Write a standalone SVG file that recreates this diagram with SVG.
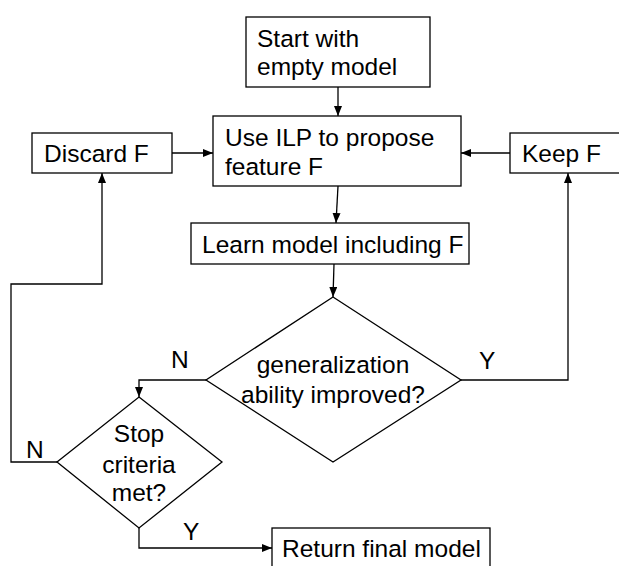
<svg xmlns="http://www.w3.org/2000/svg" width="619" height="566" viewBox="0 0 619 566">
  <style>
    .box { fill: #ffffff; stroke: #000000; stroke-width: 1.3; }
    .lbl { font-family: "Liberation Sans", Arial, sans-serif; font-size: 24.5px; fill: #000000; }
    .mid { text-anchor: middle; }
    .edge { fill: none; stroke: #000000; stroke-width: 1.3; }
  </style>
  <defs>
    <marker id="arrow" viewBox="0 0 10 8" refX="10" refY="4" markerWidth="10" markerHeight="8" markerUnits="userSpaceOnUse" orient="auto">
      <path d="M0,0 L10,4 L0,8 Z" fill="#000000"/>
    </marker>
  </defs>
  <rect width="619" height="566" fill="#ffffff"/>

  <g id="connectors">
    <path class="edge" d="M338,87 L338,116" marker-end="url(#arrow)"/>
    <path class="edge" d="M172,153 L213,153" marker-end="url(#arrow)"/>
    <path class="edge" d="M510,153 L461,153" marker-end="url(#arrow)"/>
    <path class="edge" d="M338,186 L336,223" marker-end="url(#arrow)"/>
    <path class="edge" d="M334,264 L333,297" marker-end="url(#arrow)"/>
    <path class="edge" d="M461,380 L568,380 L568,173" marker-end="url(#arrow)"/>
    <path class="edge" d="M206,380 L139,380 L139,397" marker-end="url(#arrow)"/>
    <path class="edge" d="M57,462 L11,462 L11,284 L102,284 L102,173" marker-end="url(#arrow)"/>
    <path class="edge" d="M139,528 L139,548 L272,548" marker-end="url(#arrow)"/>
    <text class="lbl" x="171" y="368">N</text>
    <text class="lbl" x="479" y="369">Y</text>
    <text class="lbl" x="26" y="458">N</text>
    <text class="lbl" x="183" y="540">Y</text>
  </g>

  <g id="start">
    <rect class="box" x="246" y="17" width="184" height="70"/>
    <text class="lbl" x="257" y="47">Start with</text>
    <text class="lbl" x="257" y="75">empty model</text>
  </g>

  <g id="propose">
    <rect class="box" x="213" y="116" width="248" height="70"/>
    <text class="lbl" x="225" y="146">Use ILP to propose</text>
    <text class="lbl" x="225" y="175">feature F</text>
  </g>

  <g id="discard">
    <rect class="box" x="32" y="133" width="140" height="40"/>
    <text class="lbl" x="44" y="162">Discard F</text>
  </g>

  <g id="keep">
    <rect class="box" x="510" y="133" width="120" height="40"/>
    <text class="lbl" x="522" y="162">Keep F</text>
  </g>

  <g id="learn">
    <rect class="box" x="191" y="223" width="278" height="41"/>
    <text class="lbl" x="202" y="253">Learn model including F</text>
  </g>

  <g id="improved">
    <polygon class="box" points="333,297 461,380 333,462 206,380"/>
    <text class="lbl mid" x="333" y="373">generalization</text>
    <text class="lbl mid" x="333" y="403">ability improved?</text>
  </g>

  <g id="stop">
    <polygon class="box" points="139,397 222,462 139,528 57,462"/>
    <text class="lbl mid" x="139" y="442">Stop</text>
    <text class="lbl mid" x="139" y="473">criteria</text>
    <text class="lbl mid" x="139" y="501">met?</text>
  </g>

  <g id="final">
    <rect class="box" x="272" y="528" width="218" height="50"/>
    <text class="lbl" x="282" y="557">Return final model</text>
  </g>
</svg>
